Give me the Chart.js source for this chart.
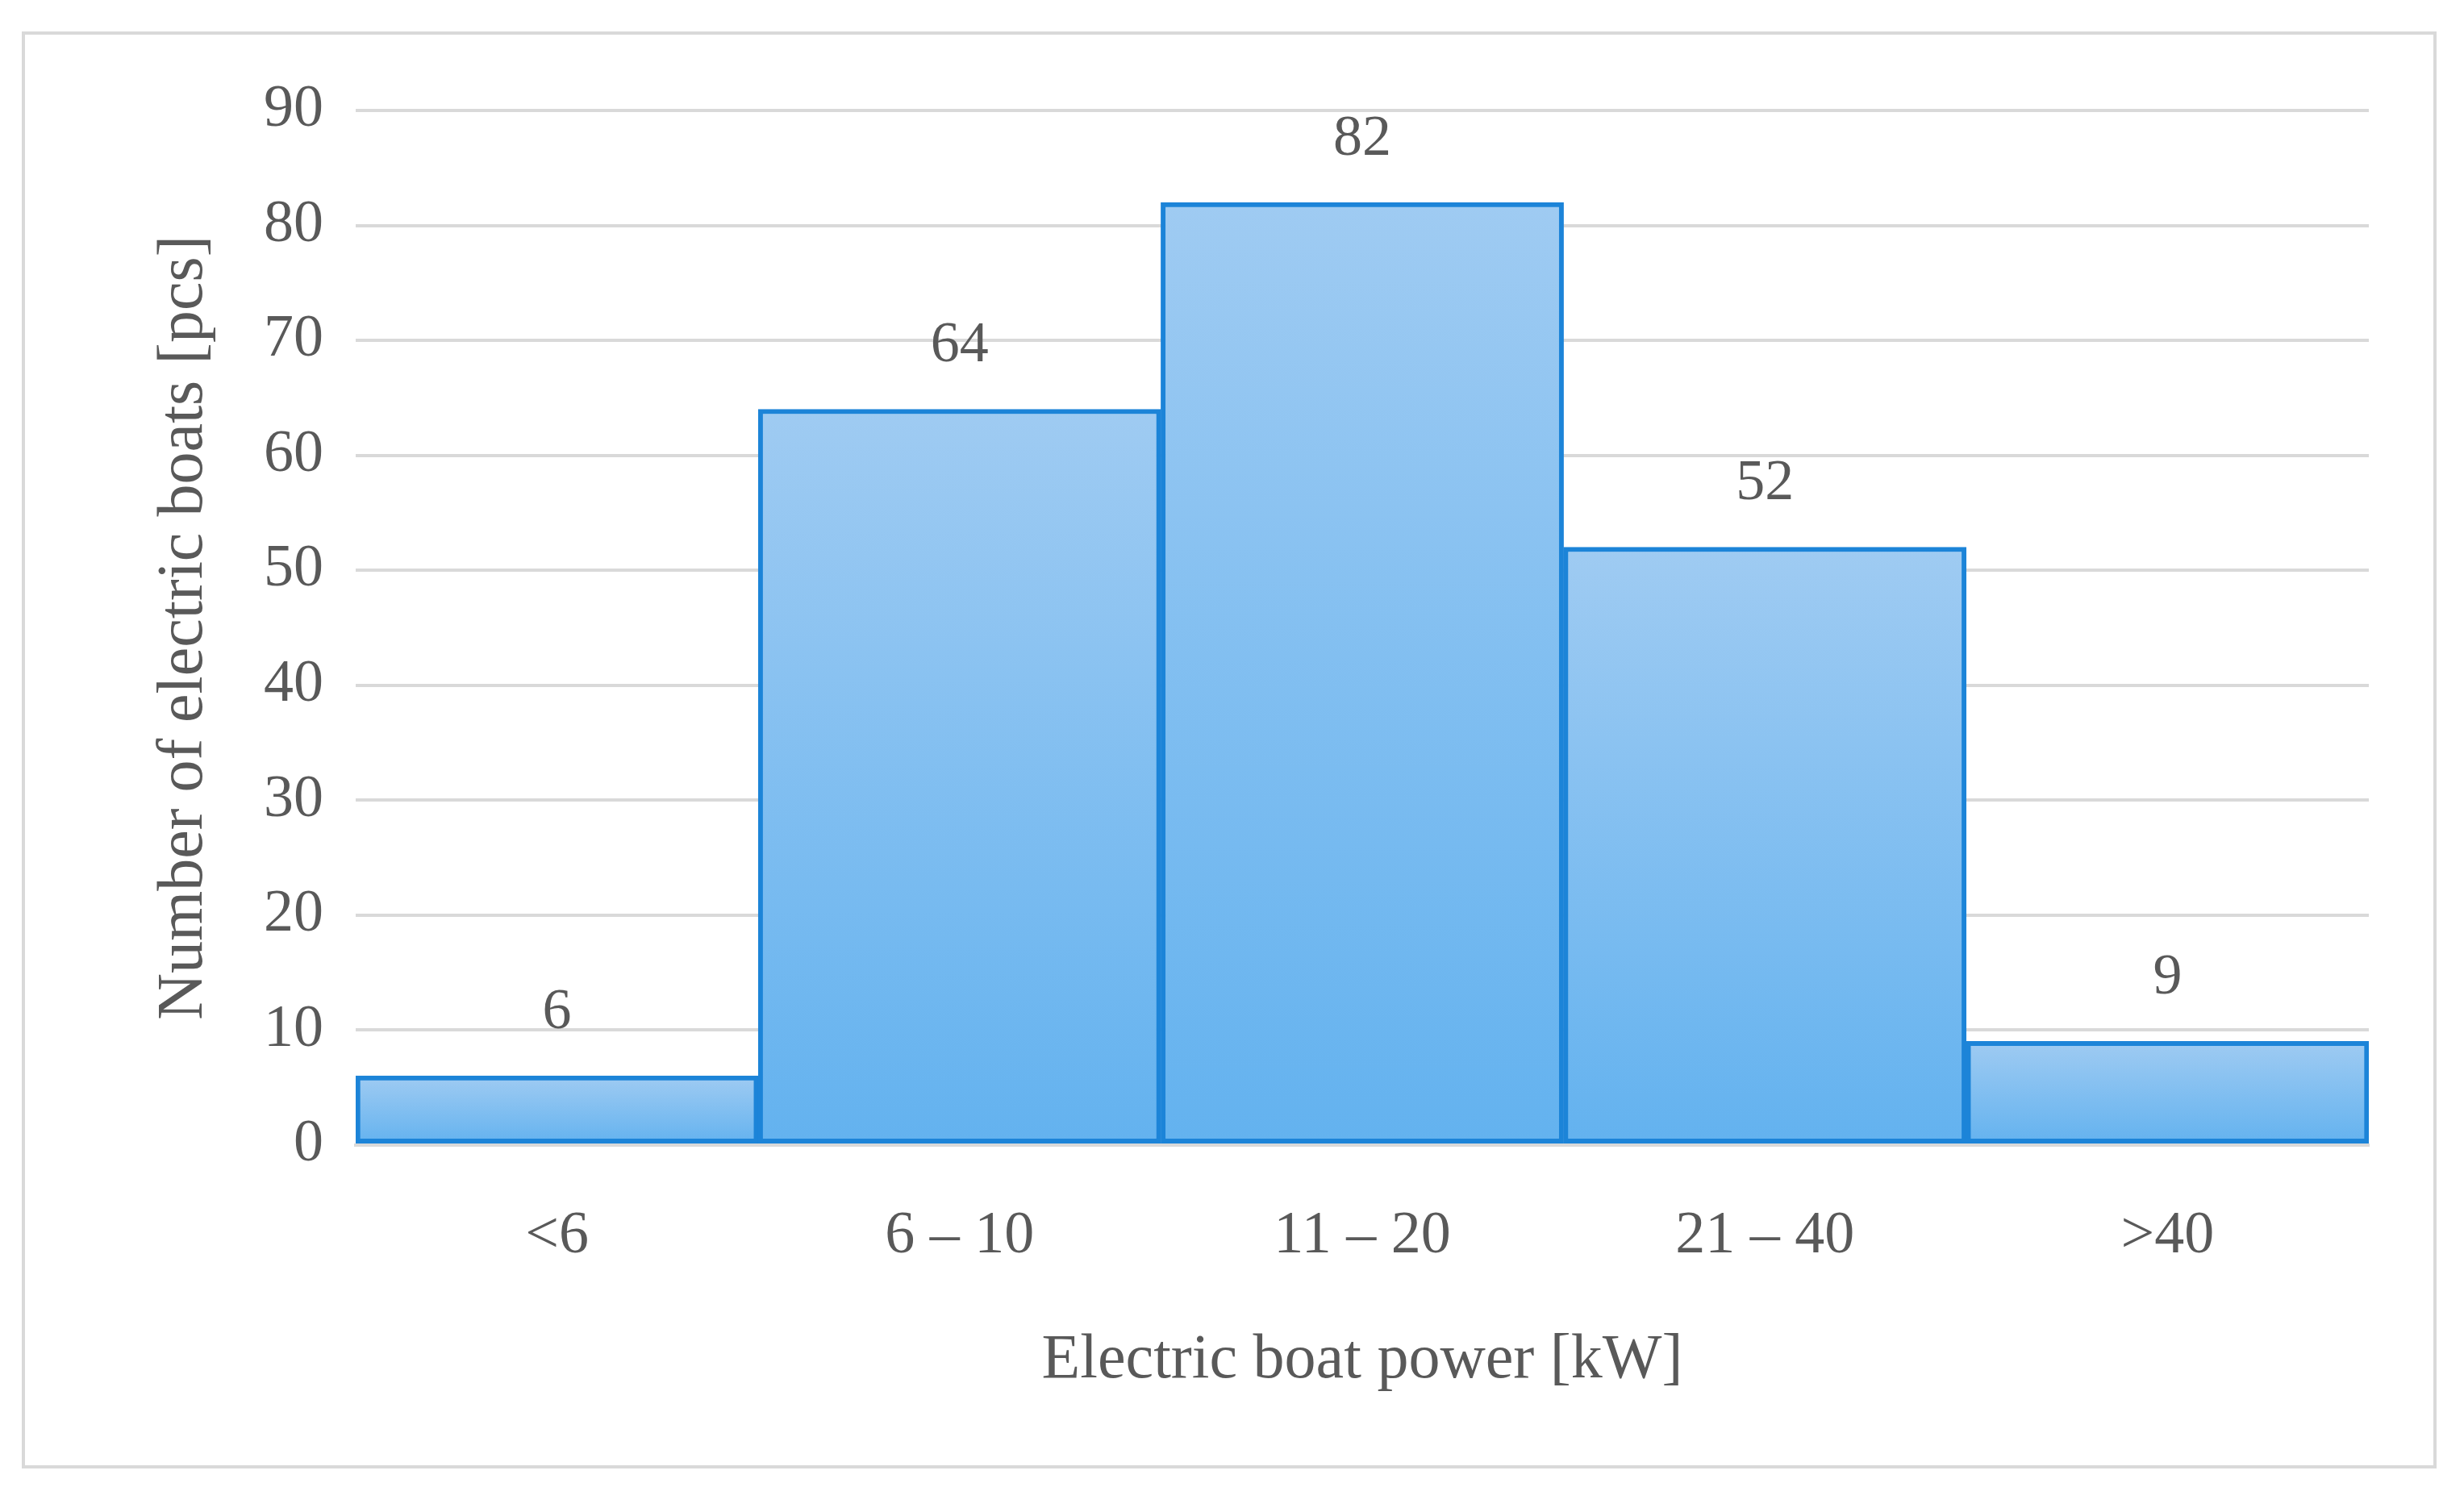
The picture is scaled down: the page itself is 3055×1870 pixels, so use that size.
<!DOCTYPE html>
<html><head><meta charset="utf-8">
<script src="https://cdn.jsdelivr.net/npm/chart.js@4/dist/chart.umd.min.js"></script>
<style>
html,body{margin:0;padding:0;background:#fff;}
#frame{position:absolute;left:27px;top:39px;width:2994px;height:1782px;border:4px solid #d9d9d9;box-sizing:border-box;}
#wrap{position:absolute;left:0;top:0;width:3055px;height:1870px;}
</style></head><body>
<div id="frame"></div>
<div id="wrap"><canvas id="c" width="3055" height="1870"></canvas></div>
<script>
const categories = ["<6", "6 – 10", "11 – 20", "21 – 40", ">40"];
const counts = [6, 64, 82, 52, 9];
const yTicks = [0,10,20,30,40,50,60,70,80,90];

const FONT = "'Liberation Serif','DejaVu Serif',serif";
const gray = "#595959";

const labelPlugin = {
  id: 'labels',
  afterDatasetsDraw(chart){
    const ctx = chart.ctx;
    const meta = chart.getDatasetMeta(0);
    ctx.save();
    ctx.font = "72px " + FONT;
    ctx.fillStyle = gray;
    ctx.textAlign = "center";
    ctx.textBaseline = "bottom";
    meta.data.forEach((el,i)=>{
      ctx.fillText(String(counts[i]), el.x, el.y - 42);
    });
    ctx.restore();
  }
};

new Chart(document.getElementById('c'), {
  type: 'bar',
  data: {
    labels: categories,
    datasets: [{
      data: counts,
      backgroundColor: (c) => {
        const chart = c.chart;
        if (!chart.chartArea || c.dataIndex === undefined) return '#7fbaf0';
        const ys = chart.scales.y;
        const top = ys.getPixelForValue(counts[c.dataIndex]);
        const bot = ys.getPixelForValue(0);
        const g = chart.ctx.createLinearGradient(0, top, 0, bot);
        g.addColorStop(0, '#9fcbf2');
        g.addColorStop(1, '#63b2ef');
        return g;
      },
      borderColor: '#1c84d8',
      borderWidth: 6,
      borderSkipped: false,
      categoryPercentage: 1.0,
      barPercentage: 1.0
    }]
  },
  options: {
    responsive: false,
    animation: false,
    devicePixelRatio: 1,
    layout: { padding: { left: 177, right: 118, top: 137, bottom: 132 } },
    plugins: { legend: { display: false }, tooltip: { enabled: false } },
    scales: {
      x: {
        grid: { display: false },
        border: { color: '#d9d9d9', width: 4 },
        ticks: { color: gray, font: { family: FONT, size: 74 }, padding: 62 },
        title: { display: true, text: 'Electric boat power [kW]', color: gray, font: { family: FONT, size: 78 }, padding: { top: 0 } }
      },
      y: {
        min: 0, max: 90,
        afterBuildTicks: (s) => { s.ticks = yTicks.map(v => ({ value: v })); },
        grid: { color: '#d9d9d9', lineWidth: 4, drawTicks: false },
        border: { display: false },
        ticks: { color: gray, font: { family: FONT, size: 74 }, padding: 40 },
        title: { display: true, text: 'Number of electric boats [pcs]', color: gray, font: { family: FONT, size: 80 }, padding: { bottom: 10 } }
      }
    }
  },
  plugins: [labelPlugin]
});
</script>
</body></html>
